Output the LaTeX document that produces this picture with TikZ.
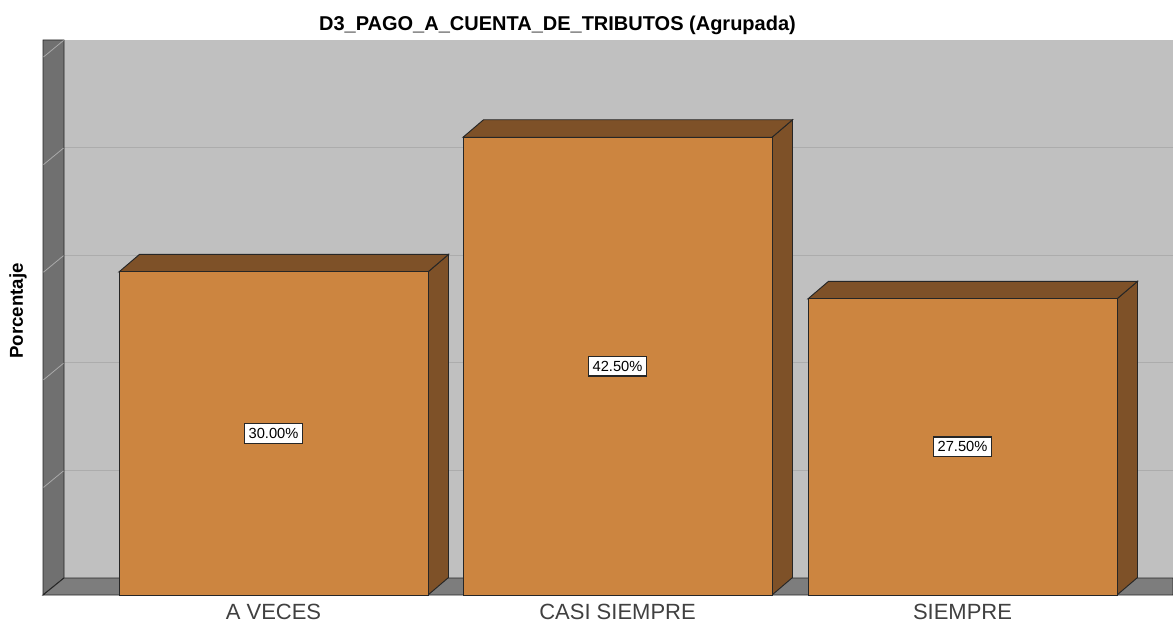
\documentclass[tikz,border=0pt]{standalone}
\usepackage{fontspec}
\setmainfont{Liberation Sans}
\definecolor{backwall}{RGB}{192,192,192}
\definecolor{sidewall}{RGB}{112,112,112}
\definecolor{floorgray}{RGB}{125,125,125}
\definecolor{gridgray}{RGB}{172,172,172}
\definecolor{tickgray}{RGB}{170,170,170}
\definecolor{barfront}{RGB}{204,133,64}
\definecolor{barside}{RGB}{126,81,40}
\definecolor{catgray}{RGB}{64,64,64}

\begin{document}
\begin{tikzpicture}[x=0.75pt,y=-0.75pt,
	edge/.style={draw=black!85, line width=0.7pt},
	vallabel/.style={draw=black!85, fill=white, line width=0.9pt, font=\fontsize{11}{12}\selectfont, inner xsep=3pt, inner ysep=3.5pt},
	catlabel/.style={text=catgray, font=\fontsize{16.5}{18}\selectfont}]
	\useasboundingbox (0,0) rectangle (1173,624);
	\fill[backwall] (64,40) rectangle (1173,578);
	\foreach \g in {470.4,362.8,255.2,147.6}
		\draw[gridgray, line width=0.6pt] (64,\g) -- (1173,\g);
	\filldraw[fill=sidewall, edge] (43,40) -- (64,40) -- (64,578) -- (43,595) -- cycle;
	\foreach \g in {470.4,362.8,255.2,147.6,40}
		\draw[tickgray, line width=0.6pt] (43.5,\g+17) -- (63.5,\g+0.5);
	\filldraw[fill=floorgray, edge] (43,595) -- (64,578) -- (1173,578) -- (1173,595) -- cycle;
	\foreach \l/\v/\name/\cat/\lab in {119/30/a/A VECES/30.00,463/42.5/b/CASI SIEMPRE/42.50,808/27.5/c/SIEMPRE/27.50}{
		\pgfmathsetmacro\t{595-10.77*\v}
		\pgfmathsetmacro\r{\l+309}
		\filldraw[fill=barside, edge] (\r,\t) -- (\r+20.5,\t-17.5) -- (\r+20.5,577.5) -- (\r,595) -- cycle;
		\filldraw[fill=barside, edge] (\l,\t) -- (\l+20.5,\t-17.5) -- (\r+20.5,\t-17.5) -- (\r,\t) -- cycle;
		\filldraw[fill=barfront, edge] (\l,\t) rectangle (\r,595);
		\node[vallabel] (val-\name) at ({\l+154.5},{(\t+595)/2}) {\lab\%};
		\node[catlabel] (cat-\name) at ({\l+154.5},612) {\cat};
	}
	\node[font=\bfseries\fontsize{15}{17}\selectfont] (title) at (557.5,25) {D3\_PAGO\_A\_CUENTA\_DE\_TRIBUTOS (Agrupada)};
	\node[font=\bfseries\fontsize{14}{16}\selectfont, rotate=90] (ylab) at (18,311) {Porcentaje};
\end{tikzpicture}
\end{document}
